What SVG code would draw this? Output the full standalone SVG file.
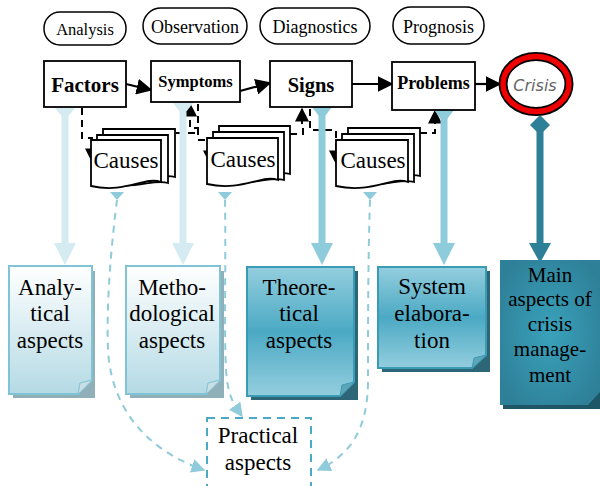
<svg xmlns="http://www.w3.org/2000/svg" width="600" height="486" viewBox="0 0 600 486">
<defs>
<style>
.pill{fill:#fff;stroke:#000;stroke-width:1.5}
.box{fill:#fff;stroke:#000;stroke-width:1.8}
.flow{stroke:#000;stroke-width:2.2;fill:none;marker-end:url(#ah)}
.dasha{stroke:#000;stroke-width:2;fill:none;stroke-dasharray:7,5;marker-end:url(#ah2)}
.doc{fill:#fff;stroke:#000;stroke-width:1.8}
.lc{stroke:#8fcbdb;stroke-width:2;fill:none;stroke-dasharray:7,6;marker-end:url(#lah)}
.s{font-family:"Liberation Serif","Times New Roman",serif}
</style>
<marker id="ah" viewBox="0 0 10 10" refX="9" refY="5" markerWidth="16" markerHeight="16" orient="auto" markerUnits="userSpaceOnUse"><path d="M0,0 L10,5 L0,10 Z" fill="#000"/></marker>
<marker id="ah2" viewBox="0 0 10 10" refX="9" refY="5" markerWidth="14" markerHeight="14" orient="auto" markerUnits="userSpaceOnUse"><path d="M0,0 L10,5 L0,10 Z" fill="#000"/></marker>
<marker id="lah" viewBox="0 0 10 10" refX="9" refY="5" markerWidth="14" markerHeight="14" orient="auto" markerUnits="userSpaceOnUse"><path d="M0,0 L10,5 L0,10 Z" fill="#8fcbdb"/></marker>
<linearGradient id="gl" x1="0" y1="0" x2="0" y2="1"><stop offset="0" stop-color="#ffffff"/><stop offset="1" stop-color="#b4dae5"/></linearGradient>
<linearGradient id="gm" x1="0" y1="0" x2="0" y2="1"><stop offset="0" stop-color="#94cede"/><stop offset="0.5" stop-color="#4ba9c4"/><stop offset="1" stop-color="#94cede"/></linearGradient>
<radialGradient id="gd" cx="0.5" cy="0.5" r="0.6"><stop offset="0" stop-color="#3aa2bb"/><stop offset="1" stop-color="#2e8098"/></radialGradient>
</defs>

<g id="connectors">
  <path class="flow" d="M126,84 L151,90"/>
  <path class="flow" d="M240,91 L270,83"/>
  <path class="flow" d="M352,84 L392,84"/>
  <path class="flow" d="M475,84 L500,84"/>
  <path class="dasha" d="M82,108 V138 H92 V161"/>
  <path class="dasha" d="M176,133 H198 V128 H190 V104"/>
  <path class="dasha" d="M198,104 V140 H210 V163"/>
  <path class="dasha" d="M290,134 H303 V128 H302 V109"/>
  <path class="dasha" d="M310,109 V130 H336 V163"/>
  <path class="dasha" d="M420,133 H435 V111"/>
  <g fill="#d5ebf2">
    <rect x="61.5" y="115" width="7" height="130"/>
    <polygon points="55,108 75,108 65,120"/>
    <polygon points="54,243 76,243 65,265"/>
    <rect x="179.5" y="112" width="7" height="133"/>
    <polygon points="173,103 193,103 183,116"/>
    <polygon points="172,243 194,243 183,265"/>
  </g>
  <g fill="#8ecbdb">
    <rect x="318.5" y="114" width="7" height="131"/>
    <polygon points="312,107 332,107 322,120"/>
    <polygon points="311,243 333,243 322,265"/>
    <rect x="440.5" y="118" width="7" height="127"/>
    <polygon points="434,110 454,110 444,123"/>
    <polygon points="433,243 455,243 444,265"/>
  </g>
  <g fill="#2e8098">
    <rect x="536.5" y="130" width="7" height="115"/>
    <polygon points="540,115 550,125 540,135 530,125"/>
    <polygon points="529,243 551,243 540,263"/>
  </g>
  <g fill="#8fcbdb">
    <polygon points="110,192 124,192 117,200"/>
    <polygon points="218,192 232,192 225,200"/>
    <polygon points="363,192 377,192 370,200"/>
  </g>
  <path class="lc" d="M117,200 C112,240 106,300 108,350 C112,420 160,455 204,470"/>
  <path class="lc" d="M225,200 C226,260 224,330 226,370 C228,395 232,402 242,416"/>
  <path class="lc" d="M370,200 C368,260 368,330 368,380 C368,430 350,455 318,470"/>
</g>

<g text-anchor="middle" class="s">
<g id="pill-analysis"><rect class="pill" x="44" y="12" width="82" height="33" rx="16"/><text class="s" x="85" y="35" font-size="16.5">Analysis</text></g>
<g id="pill-observation"><rect class="pill" x="143" y="8" width="104" height="36" rx="18"/><text class="s" x="195" y="33" font-size="18">Observation</text></g>
<g id="pill-diagnostics"><rect class="pill" x="260" y="8" width="110" height="36" rx="18"/><text class="s" x="315" y="33" font-size="18">Diagnostics</text></g>
<g id="pill-prognosis"><rect class="pill" x="393" y="7" width="91" height="37" rx="18"/><text class="s" x="438.5" y="33" font-size="18">Prognosis</text></g>

<g id="factors"><rect class="box" x="44" y="61" width="82" height="46"/><text class="s" x="85" y="92" font-size="21" font-weight="bold">Factors</text></g>
<g id="symptoms"><rect class="box" x="151" y="61" width="89" height="41"/><text class="s" x="195.5" y="87" font-size="16.5" font-weight="bold">Symptoms</text></g>
<g id="signs"><rect class="box" x="270" y="61" width="82" height="46"/><text class="s" x="311" y="92" font-size="20.5" font-weight="bold">Signs</text></g>
<g id="problems"><rect class="box" x="392" y="62" width="83" height="48"/><text class="s" x="433.5" y="89" font-size="18" font-weight="bold">Problems</text></g>
<g id="crisis"><ellipse cx="536" cy="84" rx="33" ry="27.5" fill="#fff" stroke="#000" stroke-width="9"/><ellipse cx="536" cy="84" rx="33" ry="27.5" fill="none" stroke="#e00" stroke-width="5.5"/><text x="535" y="91" font-family="DejaVu Sans, sans-serif" font-style="italic" font-size="16" fill="#666">Crisis</text></g>

<g id="causes1">
  <path class="doc" d="M103,129 H175 V177 C160,172 140,186 103,176 Z"/>
  <path class="doc" d="M97,135 H168 V183 C153,178 133,192 97,182 Z"/>
  <path class="doc" d="M91,140 H161 V182 C145,176 125,194 91,186 Z"/>
  <text class="s" x="126" y="168" font-size="23">Causes</text>
</g>
<g id="causes2">
  <path class="doc" d="M219,126 H290 V174 C275,169 255,183 219,173 Z"/>
  <path class="doc" d="M213,132 H284 V180 C269,175 249,189 213,179 Z"/>
  <path class="doc" d="M207,138 H278 V180 C262,174 242,192 207,184 Z"/>
  <text class="s" x="243" y="167" font-size="23">Causes</text>
</g>
<g id="causes3">
  <path class="doc" d="M348,128 H420 V176 C405,171 385,185 348,175 Z"/>
  <path class="doc" d="M342,134 H414 V182 C399,177 379,191 342,181 Z"/>
  <path class="doc" d="M336,140 H408 V182 C392,176 372,194 336,186 Z"/>
  <text class="s" x="373" y="168" font-size="23">Causes</text>
</g>

<g id="analytical" font-size="23">
  <rect x="13" y="271" width="82" height="127" fill="#8fb0b8"/>
  <path d="M9,266 H92 V380 L78,394 H9 Z" fill="url(#gl)" stroke="#7fc3d4" stroke-width="2"/>
  <path d="M78,394 L80,383 L92,380" fill="#c9dde3" stroke="#7fc3d4" stroke-width="1"/>
  <text class="s" x="50" y="295">Analy-</text><text class="s" x="50" y="321">tical</text><text class="s" x="50" y="348">aspects</text>
</g>
<g id="methodological" font-size="23">
  <rect x="130" y="271" width="94" height="127" fill="#8fb0b8"/>
  <path d="M126,266 H220 V380 L206,394 H126 Z" fill="url(#gl)" stroke="#7fc3d4" stroke-width="2"/>
  <path d="M206,394 L208,383 L220,380" fill="#c9dde3" stroke="#7fc3d4" stroke-width="1"/>
  <text class="s" x="172" y="295">Metho-</text><text class="s" x="172" y="321">dological</text><text class="s" x="172" y="348">aspects</text>
</g>
<g id="theoretical" font-size="23">
  <rect x="251" y="271" width="107" height="129" fill="#2c6677"/>
  <path d="M247,267 H354 V382 L340,396 H247 Z" fill="url(#gm)" stroke="#3a9bb5" stroke-width="2"/>
  <path d="M340,396 L342,385 L354,382" fill="#5ea5b8" stroke="#3a9bb5" stroke-width="1"/>
  <text class="s" x="299" y="295">Theore-</text><text class="s" x="299" y="321">tical</text><text class="s" x="299" y="348">aspects</text>
</g>
<g id="system" font-size="23">
  <rect x="382" y="271" width="108" height="101" fill="#2c6677"/>
  <path d="M378,267 H486 V355 L472,368 H378 Z" fill="url(#gm)" stroke="#3a9bb5" stroke-width="2"/>
  <path d="M472,368 L474,358 L486,355" fill="#5ea5b8" stroke="#3a9bb5" stroke-width="1"/>
  <text class="s" x="432" y="294">System</text><text class="s" x="432" y="321">elabora-</text><text class="s" x="432" y="348">tion</text>
</g>
<g id="main-aspects" font-size="21">
  <rect x="503" y="264" width="100" height="145" fill="#1f5666"/>
  <path d="M500,260 H600 V392 L588,405 H500 Z" fill="url(#gd)"/>
  <text class="s" x="550" y="282">Main</text><text class="s" x="550" y="306">aspects of</text><text class="s" x="550" y="331">crisis</text><text class="s" x="550" y="356">manage-</text><text class="s" x="550" y="382">ment</text>
</g>
<g id="practical" font-size="23">
  <rect x="207" y="418" width="104" height="80" fill="#fff" stroke="#4aa9c4" stroke-width="2" stroke-dasharray="8,6"/>
  <text class="s" x="258" y="443">Practical</text><text class="s" x="258" y="470">aspects</text>
</g>
</g>
</svg>
